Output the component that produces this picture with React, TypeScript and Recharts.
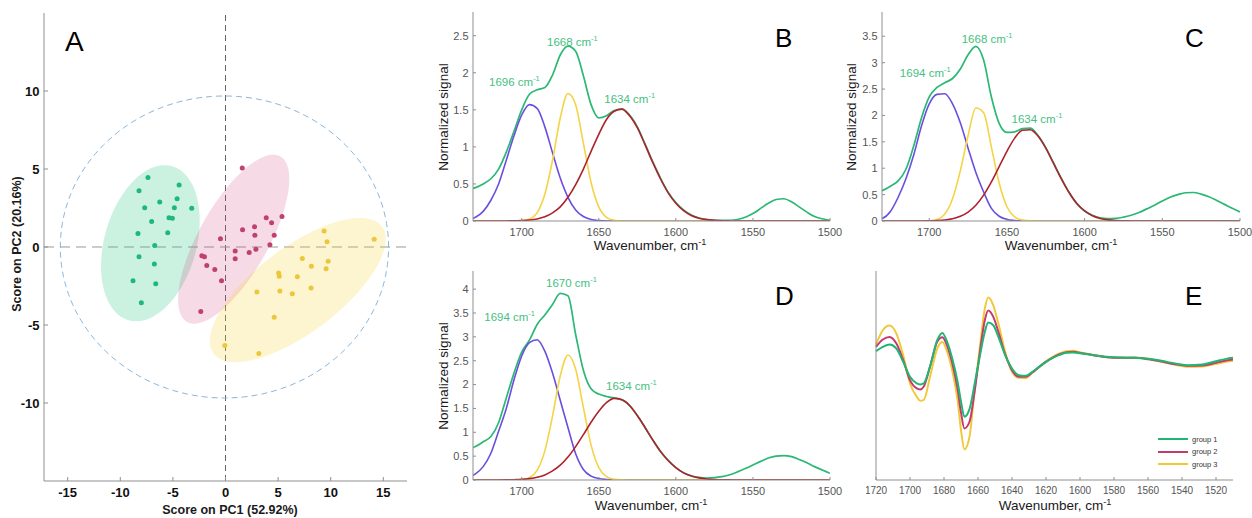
import React from 'react';
import {
  ScatterChart,
  Scatter,
  LineChart,
  Line,
  XAxis,
  YAxis,
  ReferenceLine,
  ReferenceDot,
} from 'recharts';

// ---------- A: PCA score plot ----------
const scoresGroup1 = [
  { x: -7.37, y: 4.45 }, { x: -8.22, y: 3.61 }, { x: -4.41, y: 3.98 }, { x: -4.6, y: 3.1 },
  { x: -6.25, y: 2.89 }, { x: -7.68, y: 2.52 }, { x: -4.86, y: 2.52 }, { x: -3.21, y: 2.48 },
  { x: -7.02, y: 1.63 }, { x: -5.37, y: 1.88 }, { x: -5.05, y: 1.84 }, { x: -8.32, y: 0.86 },
  { x: -5.49, y: 0.92 }, { x: -6.73, y: 0.09 }, { x: -8.22, y: -0.62 }, { x: -6.76, y: -1.09 },
  { x: -8.79, y: -2.16 }, { x: -6.63, y: -2.35 }, { x: -8.0, y: -3.57 },
];
const scoresGroup2 = [
  { x: 1.59, y: 5.07 }, { x: 3.87, y: 1.88 }, { x: 5.37, y: 1.95 }, { x: 4.38, y: 1.56 },
  { x: 1.62, y: 1.11 }, { x: 2.76, y: 1.3 }, { x: 2.79, y: 0.75 }, { x: 4.63, y: 0.75 },
  { x: -0.48, y: 0.53 }, { x: 4.22, y: 0.15 }, { x: 2.89, y: -0.15 }, { x: 0.92, y: -0.26 },
  { x: 2.25, y: -0.36 }, { x: -2.25, y: -0.56 }, { x: -2.0, y: -0.62 }, { x: 0.92, y: -0.75 },
  { x: -1.78, y: -1.18 }, { x: -1.02, y: -1.45 }, { x: -0.38, y: -2.16 }, { x: -2.35, y: -4.13 },
];
const scoresGroup3 = [
  { x: 9.37, y: 1.03 }, { x: 14.13, y: 0.49 }, { x: 9.65, y: 0.34 }, { x: 7.3, y: -0.73 },
  { x: 9.75, y: -0.92 }, { x: 8.16, y: -1.24 }, { x: 9.56, y: -1.39 }, { x: 5.05, y: -1.67 },
  { x: 5.11, y: -1.88 }, { x: 6.83, y: -1.9 }, { x: 8.13, y: -2.63 }, { x: 5.17, y: -2.82 },
  { x: 2.98, y: -2.89 }, { x: 6.35, y: -2.99 }, { x: 4.63, y: -4.51 }, { x: -0.06, y: -6.31 },
  { x: 3.17, y: -6.82 },
];

// confidence ellipses: centre plus two conjugate semi-axes, in score units
const ellipseGroup1 = { cx: -7.14, cy: 0.24, ux: 2.06, uy: 4.94, vx: 4.21, vy: -0.8 };
const ellipseGroup2 = { cx: 0.78, cy: 0.5, ux: 4.43, uy: 5.31, vx: 2.88, vy: -1.09 };
const ellipseGroup3 = { cx: 6.87, cy: -2.76, ux: 8.0, uy: 4.08, vx: 2.44, vy: -2.17 };
const hotellingLimit = { cx: -0.1, cy: 0, ux: 15.6, uy: 0, vx: 0, vy: 9.68 };

const pc1Ticks = [-15, -10, -5, 0, 5, 10, 15];
const pc2Ticks = [-10, -5, 0, 5, 10];

// ---------- B, C, D: band fitting ----------
const fitWavenumbers = [
  1735, 1730, 1725, 1720, 1715, 1710, 1705, 1700, 1695, 1690, 1685, 1680, 1675, 1670, 1665, 1660,
  1655, 1650, 1645, 1640, 1635, 1630, 1625, 1620, 1615, 1610, 1605, 1600, 1595, 1590, 1585, 1580,
  1575, 1570, 1565, 1560, 1555, 1550, 1545, 1540, 1535, 1530, 1525, 1520, 1515, 1510, 1505, 1500,
];
const fitTicks = [1700, 1650, 1600, 1550, 1500];

const bMeasured = [
  0.42, 0.45, 0.5, 0.57, 0.7, 0.93, 1.21, 1.5, 1.71, 1.77, 1.8, 1.97, 2.24, 2.36, 2.29, 1.96,
  1.57, 1.39, 1.42, 1.49, 1.51, 1.43, 1.27, 1.04, 0.8, 0.58, 0.39, 0.25, 0.15, 0.08, 0.04, 0.02,
  0.01, 0.01, 0.01, 0.02, 0.05, 0.1, 0.17, 0.24, 0.29, 0.3, 0.26, 0.19, 0.12, 0.06, 0.03, 0.01,
];
const bBand1696 = [
  0.02, 0.05, 0.13, 0.28, 0.5, 0.82, 1.15, 1.43, 1.57, 1.52, 1.27, 0.92, 0.58, 0.32, 0.15, 0.06,
  0.02, 0.005, 0, 0, 0, 0, 0, 0, 0, 0, 0, 0, 0, 0, 0, 0,
  0, 0, 0, 0, 0, 0, 0, 0, 0, 0, 0, 0, 0, 0, 0, 0,
];
const bBand1668 = [
  0, 0, 0, 0, 0, 0, 0, 0.005, 0.027, 0.11, 0.36, 0.82, 1.39, 1.72, 1.57, 1.05,
  0.52, 0.19, 0.05, 0.01, 0, 0, 0, 0, 0, 0, 0, 0, 0, 0, 0, 0,
  0, 0, 0, 0, 0, 0, 0, 0, 0, 0, 0, 0, 0, 0, 0, 0,
];
const bBand1634 = [
  0, 0, 0, 0, 0, 0.001, 0.002, 0.006, 0.013, 0.028, 0.057, 0.11, 0.19, 0.32, 0.49, 0.7,
  0.94, 1.17, 1.37, 1.48, 1.51, 1.42, 1.26, 1.03, 0.79, 0.57, 0.38, 0.24, 0.14, 0.075, 0.038, 0.018,
  0.008, 0.003, 0.001, 0, 0, 0, 0, 0, 0, 0, 0, 0, 0, 0, 0, 0,
];

const cMeasured = [
  0.54, 0.58, 0.66, 0.76, 0.98, 1.42, 1.95, 2.35, 2.53, 2.62, 2.7, 2.88, 3.15, 3.31, 3.05, 2.35,
  1.85, 1.68, 1.69, 1.75, 1.76, 1.62, 1.39, 1.1, 0.81, 0.54, 0.33, 0.19, 0.11, 0.062, 0.046, 0.05,
  0.073, 0.11, 0.16, 0.23, 0.3, 0.38, 0.45, 0.5, 0.535, 0.54, 0.51, 0.46, 0.39, 0.315, 0.24, 0.17,
];
const cBand1694 = [
  0.02, 0.05, 0.18, 0.45, 0.8, 1.25, 1.8, 2.22, 2.4, 2.41, 2.22, 1.86, 1.38, 0.92, 0.55, 0.24,
  0.09, 0.03, 0.01, 0, 0, 0, 0, 0, 0, 0, 0, 0, 0, 0, 0, 0,
  0, 0, 0, 0, 0, 0, 0, 0, 0, 0, 0, 0, 0, 0, 0, 0,
];
const cBand1668 = [
  0, 0, 0, 0, 0, 0, 0, 0.005, 0.03, 0.13, 0.42, 0.95, 1.62, 2.14, 2.05, 1.4,
  0.72, 0.27, 0.076, 0.016, 0.002, 0, 0, 0, 0, 0, 0, 0, 0, 0, 0, 0,
  0, 0, 0, 0, 0, 0, 0, 0, 0, 0, 0, 0, 0, 0, 0, 0,
];
const cBand1634 = [
  0, 0, 0, 0, 0, 0, 0.001, 0.003, 0.008, 0.019, 0.042, 0.088, 0.17, 0.3, 0.49, 0.74,
  1.03, 1.32, 1.57, 1.72, 1.73, 1.61, 1.38, 1.09, 0.8, 0.54, 0.33, 0.19, 0.1, 0.049, 0.022, 0.009,
  0.004, 0.001, 0, 0, 0, 0, 0, 0, 0, 0, 0, 0, 0, 0, 0, 0,
];

const dMeasured = [
  0.64, 0.7, 0.8, 0.91, 1.2, 1.72, 2.24, 2.68, 2.93, 3.26, 3.46, 3.68, 3.91, 3.86, 3.05, 2.3,
  1.91, 1.8, 1.75, 1.72, 1.68, 1.56, 1.35, 1.1, 0.84, 0.6, 0.41, 0.26, 0.15, 0.088, 0.054, 0.042,
  0.049, 0.071, 0.11, 0.17, 0.24, 0.315, 0.39, 0.46, 0.5, 0.51, 0.49, 0.43, 0.36, 0.28, 0.21, 0.14,
];
const dBand1694 = [
  0.05, 0.13, 0.28, 0.56, 1.02, 1.5, 2.1, 2.6, 2.88, 2.94, 2.7, 2.24, 1.67, 1.1, 0.55, 0.22,
  0.08, 0.03, 0.01, 0, 0, 0, 0, 0, 0, 0, 0, 0, 0, 0, 0, 0,
  0, 0, 0, 0, 0, 0, 0, 0, 0, 0, 0, 0, 0, 0, 0, 0,
];
const dBand1670 = [
  0, 0, 0, 0, 0, 0, 0, 0.009, 0.05, 0.2, 0.61, 1.34, 2.18, 2.62, 2.32, 1.52,
  0.73, 0.26, 0.069, 0.013, 0.002, 0, 0, 0, 0, 0, 0, 0, 0, 0, 0, 0,
  0, 0, 0, 0, 0, 0, 0, 0, 0, 0, 0, 0, 0, 0, 0, 0,
];
const dBand1634 = [
  0, 0, 0, 0, 0, 0.002, 0.006, 0.013, 0.029, 0.057, 0.107, 0.19, 0.31, 0.48, 0.7, 0.95,
  1.21, 1.44, 1.62, 1.71, 1.68, 1.56, 1.35, 1.1, 0.84, 0.6, 0.41, 0.26, 0.15, 0.083, 0.044, 0.021,
  0.01, 0.004, 0.002, 0, 0, 0, 0, 0, 0, 0, 0, 0, 0, 0, 0, 0,
];

// peak annotations: wavenumber / signal where the label starts
const bPeaks = [
  { wn: 1721.2, y: 1.88, text: '1696' },
  { wn: 1683.6, y: 2.42, text: '1668' },
  { wn: 1646.4, y: 1.64, text: '1634' },
];
const cPeaks = [
  { wn: 1718.9, y: 2.81, text: '1694' },
  { wn: 1679.1, y: 3.45, text: '1668' },
  { wn: 1647.0, y: 1.94, text: '1634' },
];
const dPeaks = [
  { wn: 1724.3, y: 3.42, text: '1694' },
  { wn: 1684.2, y: 4.12, text: '1670' },
  { wn: 1645.3, y: 1.97, text: '1634' },
];

// ---------- E: second derivative spectra ----------
const eWavenumbers = [
  1720, 1716, 1712, 1708, 1704, 1700, 1696, 1694, 1692, 1688, 1684, 1681, 1678, 1675, 1672, 1670,
  1668, 1665, 1662, 1659, 1656, 1654, 1651, 1648, 1644, 1640, 1636, 1632, 1628, 1624, 1620, 1616,
  1612, 1608, 1604, 1600, 1592, 1584, 1576, 1568, 1560, 1552, 1544, 1536, 1528, 1520, 1514, 1510,
];
const eTicks = [1720, 1700, 1680, 1660, 1640, 1620, 1600, 1580, 1560, 1540, 1520];
const eGroup1 = [
  0.73, 0.86, 0.93, 0.81, 0.41, -0.04, -0.24, -0.27, -0.24, 0.31, 1.06, 1.28, 0.99, 0.48, -0.19, -0.79,
  -1.24, -1.01, -0.26, 0.56, 1.31, 1.59, 1.51, 1.16, 0.61, 0.21, 0.01, -0.01, 0.11, 0.26, 0.41, 0.53,
  0.62, 0.68, 0.69, 0.67, 0.61, 0.56, 0.54, 0.53, 0.5, 0.44, 0.36, 0.31, 0.33, 0.43, 0.5, 0.53,
];
const eGroup2 = [
  0.86, 1.08, 1.16, 0.96, 0.46, -0.14, -0.39, -0.42, -0.34, 0.31, 1.01, 1.15, 0.87, 0.34, -0.41, -1.11,
  -1.59, -1.39, -0.49, 0.66, 1.66, 1.95, 1.76, 1.31, 0.63, 0.16, -0.04, -0.04, 0.09, 0.26, 0.41, 0.54,
  0.64, 0.7, 0.71, 0.68, 0.61, 0.55, 0.53, 0.53, 0.49, 0.42, 0.34, 0.29, 0.3, 0.38, 0.45, 0.48,
];
const eGroup3 = [
  0.93, 1.36, 1.5, 1.26, 0.61, -0.24, -0.64, -0.76, -0.74, 0.01, 0.81, 1.01, 0.69, 0.11, -0.74, -1.64,
  -2.22, -1.84, -0.44, 0.81, 2.01, 2.34, 2.11, 1.56, 0.71, 0.11, -0.07, -0.08, 0.09, 0.26, 0.43, 0.56,
  0.66, 0.73, 0.74, 0.7, 0.62, 0.55, 0.53, 0.54, 0.5, 0.41, 0.32, 0.26, 0.27, 0.35, 0.41, 0.44,
];
const eLegend = ['group 1', 'group 2', 'group 3'];

// ---------- styles ----------
const FONT = 'Arial, "Liberation Sans", sans-serif';
const BOX = '#8f8f8f';
const GREEN = '#2ab874';
const PURPLE = '#6a4fdf';
const YELLOW = '#f4d344';
const RED = '#ad232d';
const PEAK_TEXT = '#45bf80';
const G1 = '#21b573';
const G2 = '#c23a70';
const G3 = '#f0c93a';

const ellipseOutline = (e: typeof ellipseGroup1, steps = 96) =>
  Array.from({ length: steps }, (_, i) => {
    const t = (2 * Math.PI * i) / steps;
    return {
      x: e.cx + e.ux * Math.cos(t) + e.vx * Math.sin(t),
      y: e.cy + e.uy * Math.cos(t) + e.vy * Math.sin(t),
    };
  });

const noPoint = () => <g />;
const dot = (color: string) => (p: any) => <circle cx={p.cx} cy={p.cy} r={2.5} fill={color} />;

const AxisTitle = ({ x, y, rotate, size = 13.5, bold, children }: any) => (
  <div
    style={{
      position: 'absolute',
      left: x,
      top: y,
      transform: `translate(-50%, -50%)${rotate ? ' rotate(-90deg)' : ''}`,
      whiteSpace: 'nowrap',
      fontSize: size,
      fontWeight: bold ? 700 : 400,
      color: '#1a1a1a',
      lineHeight: 1,
      fontFamily: FONT,
    }}
  >
    {children}
  </div>
);

const PanelLetter = ({ x, y, size, children }: any) => (
  <div style={{ position: 'absolute', left: x, top: y, fontSize: size, lineHeight: 1, fontFamily: FONT, color: '#000' }}>
    {children}
  </div>
);

const Cm = () => (
  <span>
    cm<span style={{ fontSize: '0.68em', position: 'relative', top: '-0.5em' }}>-1</span>
  </span>
);

const peakLabel = (text: string) => (p: any) => (
  <text x={p.cx} y={p.cy + 4} fill={PEAK_TEXT} fontSize={11.5} fontFamily={FONT}>
    {`${text} cm`}
    <tspan fontSize={7.5} dy={-5}>-1</tspan>
  </text>
);

const AW = 40; // y-axis gutter
const PAD = 6;
const XH = 30;

const SpectrumPanel = ({ frame, xDomain, yDomain, yTicks, rows, peaks, right = 14 }: any) => (
  <div style={{ position: 'absolute', left: frame.x - AW, top: frame.y - PAD }}>
    <LineChart
      width={frame.w + AW + right}
      height={frame.h + PAD + XH}
      data={rows}
      margin={{ top: PAD, right, bottom: 0, left: 0 }}
    >
      <XAxis xAxisId="top" orientation="top" type="number" dataKey="wn" domain={xDomain} reversed allowDataOverflow
        ticks={fitTicks} interval={0} height={0} tick={false} tickSize={-3} axisLine={{ stroke: BOX }} tickLine={{ stroke: BOX }} />
      <XAxis type="number" dataKey="wn" domain={xDomain} reversed allowDataOverflow ticks={fitTicks} interval={0}
        height={XH} tickSize={-3} tickMargin={10} axisLine={{ stroke: BOX }} tickLine={{ stroke: BOX }}
        tick={{ fill: '#555', fontSize: 11, fontFamily: FONT }} />
      <YAxis type="number" domain={yDomain} ticks={yTicks} interval={0} allowDataOverflow width={AW}
        tickSize={-3} tickMargin={7.5} axisLine={{ stroke: BOX }} tickLine={{ stroke: BOX }}
        tick={{ fill: '#555', fontSize: 11, fontFamily: FONT }} />
      <YAxis yAxisId="right" orientation="right" type="number" domain={yDomain} ticks={yTicks} interval={0} width={0}
        tick={false} tickSize={-3} axisLine={{ stroke: BOX }} tickLine={{ stroke: BOX }} />
      <Line dataKey="measured" type="monotone" stroke={GREEN} strokeWidth={1.7} dot={false} isAnimationActive={false} />
      <Line dataKey="band1" type="monotone" stroke={PURPLE} strokeWidth={1.6} dot={false} isAnimationActive={false} />
      <Line dataKey="band2" type="monotone" stroke={YELLOW} strokeWidth={1.6} dot={false} isAnimationActive={false} />
      <Line dataKey="band3" type="monotone" stroke={RED} strokeWidth={1.6} dot={false} isAnimationActive={false} />
      {peaks.map((pk: any) => (
        <ReferenceDot key={pk.text + pk.wn} x={pk.wn} y={pk.y} r={0} shape={peakLabel(pk.text)} />
      ))}
    </LineChart>
  </div>
);

const buildFitRows = (measured: number[], b1: number[], b2: number[], b3: number[]) =>
  fitWavenumbers.map((wn, i) => ({ wn, measured: measured[i], band1: b1[i], band2: b2[i], band3: b3[i] }));

export default function App() {
  const bRows = buildFitRows(bMeasured, bBand1696, bBand1668, bBand1634);
  const cRows = buildFitRows(cMeasured, cBand1694, cBand1668, cBand1634);
  const dRows = buildFitRows(dMeasured, dBand1694, dBand1670, dBand1634);
  const eRows = eWavenumbers.map((wn, i) => ({ wn, g1: eGroup1[i], g2: eGroup2[i], g3: eGroup3[i] }));

  const aFrame = { x: 44, y: 13, w: 363, h: 468 };
  const eFrame = { x: 876, y: 271, w: 357, h: 209 };
  const eColors = [G1, G2, G3];

  return (
    <div style={{ position: 'absolute', left: 0, top: 0, width: 1252, height: 518, background: '#fff', fontFamily: FONT, overflow: 'hidden' }}>
      {/* A */}
      <div style={{ position: 'absolute', left: aFrame.x - 44, top: aFrame.y - PAD }}>
        <ScatterChart width={aFrame.w + 44 + 14} height={aFrame.h + PAD + 30} margin={{ top: PAD, right: 14, bottom: 0, left: 0 }}>
          <XAxis xAxisId="top" orientation="top" type="number" dataKey="x" domain={[-17.25, 17.25]} ticks={pc1Ticks} interval={0}
            height={0} tick={false} tickSize={-4} axisLine={{ stroke: BOX }} tickLine={{ stroke: BOX }} />
          <XAxis type="number" dataKey="x" domain={[-17.25, 17.25]} ticks={pc1Ticks} interval={0} allowDataOverflow height={30}
            tickSize={-4} tickMargin={11} axisLine={{ stroke: BOX }} tickLine={{ stroke: BOX }}
            tick={{ fill: '#111', fontSize: 13, fontWeight: 700, fontFamily: FONT }} />
          <YAxis type="number" dataKey="y" domain={[-15, 15]} ticks={pc2Ticks} interval={0} allowDataOverflow width={44}
            tickSize={-4} tickMargin={8.5} axisLine={{ stroke: BOX }} tickLine={{ stroke: BOX }}
            tick={{ fill: '#111', fontSize: 13, fontWeight: 700, fontFamily: FONT }} />
          <YAxis yAxisId="right" orientation="right" type="number" dataKey="y" domain={[-15, 15]} ticks={pc2Ticks} interval={0}
            width={0} tick={false} tickSize={-4} axisLine={{ stroke: BOX }} tickLine={{ stroke: BOX }} />
          <Scatter data={ellipseOutline(ellipseGroup1)} shape={noPoint} line={{ stroke: 'none', fill: '#38c98c', fillOpacity: 0.26 }}
            lineJointType="linearClosed" isAnimationActive={false} />
          <Scatter data={ellipseOutline(ellipseGroup2)} shape={noPoint} line={{ stroke: 'none', fill: '#d4467c', fillOpacity: 0.2 }}
            lineJointType="linearClosed" isAnimationActive={false} />
          <Scatter data={ellipseOutline(ellipseGroup3)} shape={noPoint} line={{ stroke: 'none', fill: '#f7d33c', fillOpacity: 0.24 }}
            lineJointType="linearClosed" isAnimationActive={false} />
          <Scatter data={ellipseOutline(hotellingLimit, 160)} shape={noPoint}
            line={{ stroke: '#8ab6dc', strokeWidth: 1, strokeDasharray: '6 4', fill: 'none' }}
            lineJointType="linearClosed" isAnimationActive={false} />
          <ReferenceLine x={0} stroke="#666" strokeWidth={1} strokeDasharray="6 4" />
          <ReferenceLine y={0} stroke="#9a9a9a" strokeWidth={1.2} strokeDasharray="10 6" />
          <Scatter data={scoresGroup1} shape={dot('#1db97a')} isAnimationActive={false} />
          <Scatter data={scoresGroup2} shape={dot('#c0406f')} isAnimationActive={false} />
          <Scatter data={scoresGroup3} shape={dot('#ebc83a')} isAnimationActive={false} />
        </ScatterChart>
      </div>
      <AxisTitle x={17} y={244} rotate bold size={12.5}>Score on PC2 (20.16%)</AxisTitle>
      <AxisTitle x={230} y={510} bold size={12.5}>Score on PC1 (52.92%)</AxisTitle>
      <PanelLetter x={65} y={28} size={28}>A</PanelLetter>

      {/* B */}
      <SpectrumPanel frame={{ x: 473, y: 12, w: 357, h: 209 }} xDomain={[1500, 1731.6]} yDomain={[0, 2.82]}
        yTicks={[0, 0.5, 1, 1.5, 2, 2.5]} rows={bRows} peaks={bPeaks} />
      <AxisTitle x={444} y={117} rotate>Normalized signal</AxisTitle>
      <AxisTitle x={650} y={246}>Wavenumber, <Cm /></AxisTitle>
      <PanelLetter x={775} y={24.5} size={26}>B</PanelLetter>

      {/* C */}
      <SpectrumPanel frame={{ x: 882, y: 12, w: 358, h: 209 }} xDomain={[1500, 1730.4]} yDomain={[0, 3.96]}
        yTicks={[0, 0.5, 1, 1.5, 2, 2.5, 3, 3.5]} rows={cRows} peaks={cPeaks} right={12} />
      <AxisTitle x={852} y={117} rotate>Normalized signal</AxisTitle>
      <AxisTitle x={1061} y={246}>Wavenumber, <Cm /></AxisTitle>
      <PanelLetter x={1185} y={24.5} size={26}>C</PanelLetter>

      {/* D */}
      <SpectrumPanel frame={{ x: 473, y: 271, w: 357, h: 209 }} xDomain={[1500, 1731.6]} yDomain={[0, 4.38]}
        yTicks={[0, 0.5, 1, 1.5, 2, 2.5, 3, 3.5, 4]} rows={dRows} peaks={dPeaks} />
      <AxisTitle x={444} y={376} rotate>Normalized signal</AxisTitle>
      <AxisTitle x={651} y={506}>Wavenumber, <Cm /></AxisTitle>
      <PanelLetter x={775} y={283} size={26}>D</PanelLetter>

      {/* E */}
      <div style={{ position: 'absolute', left: eFrame.x - 10, top: eFrame.y - PAD }}>
        <LineChart width={eFrame.w + 10 + 14} height={eFrame.h + PAD + XH} data={eRows}
          margin={{ top: PAD, right: 14, bottom: 0, left: 0 }}>
          <XAxis xAxisId="top" orientation="top" type="number" dataKey="wn" domain={[1510, 1720]} reversed ticks={eTicks}
            interval={0} height={0} tick={false} tickSize={-3} axisLine={{ stroke: BOX }} tickLine={{ stroke: BOX }} />
          <XAxis type="number" dataKey="wn" domain={[1510, 1720]} reversed ticks={eTicks} interval={0} height={XH}
            tickSize={-3} tickMargin={10} axisLine={{ stroke: BOX }} tickLine={{ stroke: BOX }}
            tick={{ fill: '#555', fontSize: 10, fontFamily: FONT }} />
          <YAxis type="number" domain={[-3.14, 3.14]} width={10} tick={false} tickLine={false} axisLine={{ stroke: BOX }} />
          <YAxis yAxisId="right" orientation="right" type="number" domain={[-3.14, 3.14]} width={0} tick={false}
            tickLine={false} axisLine={{ stroke: BOX }} />
          <Line dataKey="g3" type="monotone" stroke={G3} strokeWidth={2} dot={false} isAnimationActive={false} />
          <Line dataKey="g2" type="monotone" stroke={G2} strokeWidth={2} dot={false} isAnimationActive={false} />
          <Line dataKey="g1" type="monotone" stroke={G1} strokeWidth={2} dot={false} isAnimationActive={false} />
        </LineChart>
      </div>
      <AxisTitle x={1055} y={506}>Wavenumber, <Cm /></AxisTitle>
      <PanelLetter x={1185} y={283} size={26}>E</PanelLetter>
      {eLegend.map((name, i) => (
        <div key={name} style={{ position: 'absolute', left: 1158, top: 439 + i * 12.7 - 5, height: 10, display: 'flex', alignItems: 'center' }}>
          <div style={{ width: 30, height: 2, background: eColors[i] }} />
          <span style={{ marginLeft: 4, fontSize: 7.5, color: '#333', fontFamily: FONT }}>{name}</span>
        </div>
      ))}
    </div>
  );
}
